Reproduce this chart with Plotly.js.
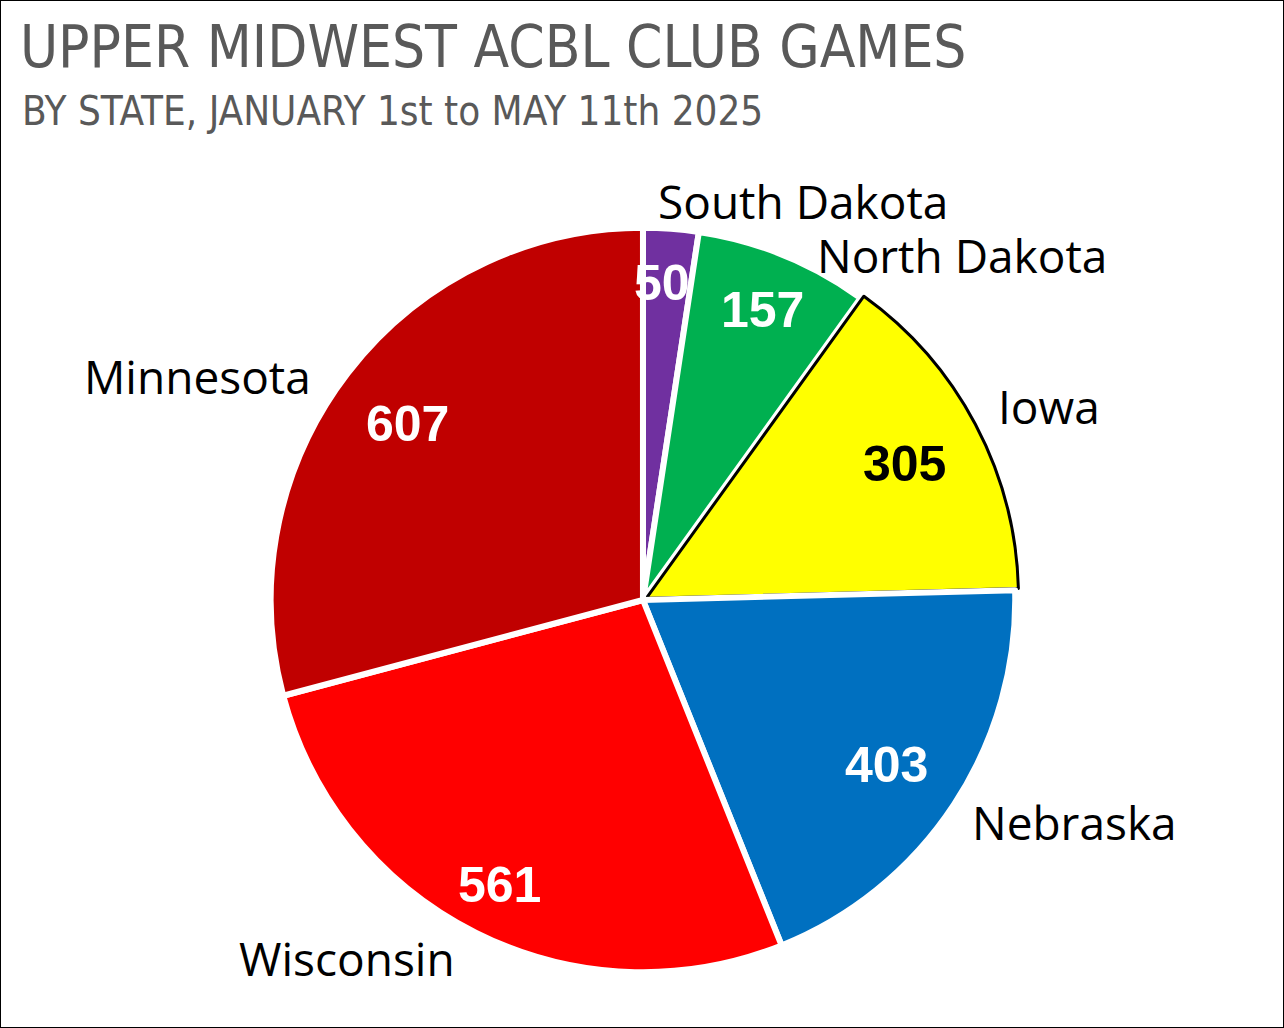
<!DOCTYPE html>
<html>
<head>
<meta charset="utf-8">
<script src="https://cdn.plot.ly/plotly-3.0.1.min.js"></script>
<style>
  html, body { margin: 0; padding: 0; background: #ffffff; }
  #chart { width: 1284px; height: 1028px; }
</style>
</head>
<body>
<div id="chart"></div>
<script>
// Club games per state, Jan 1 - May 11 2025 (clockwise from 12 o'clock)
var states = ["South Dakota", "North Dakota", "Iowa", "Nebraska", "Wisconsin", "Minnesota"];
var games = [50, 157, 305, 403, 561, 607];

var sliceColors = ["#7030A0", "#00B050", "#FFFF00", "#0070C0", "#FF0000", "#C00000"];
var valueColors = ["#ffffff", "#ffffff", "#000000", "#ffffff", "#ffffff", "#ffffff"];

// where the state names sit (paper fractions, Excel "best fit" style)
var labelX = [0.625, 0.749, 0.817, 0.837, 0.270, 0.154];
var labelY = [0.804, 0.752, 0.605, 0.200, 0.068, 0.634];

// where the value labels sit inside the slices
var valueX = [0.5155, 0.5935, 0.7048, 0.6908, 0.3894, 0.3170];
var valueY = [0.7245, 0.6984, 0.5486, 0.2558, 0.1391, 0.5875];

var pieTrace = {
  type: "pie",
  labels: states,
  values: games,
  sort: false,
  direction: "clockwise",
  rotation: 0,
  pull: [0, 0, 0.01, 0, 0, 0],
  marker: {
    colors: sliceColors,
    line: {
      color: ["#ffffff", "#ffffff", "#000000", "#ffffff", "#ffffff", "#ffffff"],
      width: [6, 6, 3, 6, 6, 6],
    },
  },
  textinfo: "none",
  hoverinfo: "label+value",
  domain: { x: [0.2079, 0.7936], y: [0.0506, 0.7821] },
};

var annotations = [];

states.forEach(function (name, i) {
  annotations.push({
    text: name,
    xref: "paper",
    yref: "paper",
    x: labelX[i],
    y: labelY[i],
    xanchor: "center",
    yanchor: "middle",
    height: 40,
    showarrow: false,
    font: { family: "Open Sans, sans-serif", size: 46, color: "#000000" },
  });
  annotations.push({
    text: String(games[i]),
    xref: "paper",
    yref: "paper",
    x: valueX[i],
    y: valueY[i],
    xanchor: "center",
    yanchor: "middle",
    showarrow: false,
    font: { family: "Liberation Sans, Arial, sans-serif", size: 50, color: valueColors[i], weight: "bold" },
  });
});

annotations.push({
  text: "BY STATE, JANUARY 1st to MAY 11th 2025",
  xref: "paper",
  yref: "paper",
  x: 0.0155,
  y: 0.892,
  xanchor: "left",
  yanchor: "middle",
  showarrow: false,
  font: { family: "Liberation Sans Narrow, DejaVu Sans Condensed, sans-serif", size: 40, color: "#595959" },
});

var layout = {
  width: 1284,
  height: 1028,
  margin: { t: 0, b: 0, l: 0, r: 0, pad: 0 },
  paper_bgcolor: "#ffffff",
  showlegend: false,
  title: {
    text: "UPPER MIDWEST ACBL CLUB GAMES",
    x: 0.0155,
    xanchor: "left",
    y: 0.955,
    yanchor: "middle",
    font: { family: "Liberation Sans Narrow, DejaVu Sans Condensed, sans-serif", size: 58, color: "#595959" },
  },
  annotations: annotations,
  shapes: [
    {
      type: "rect",
      xref: "paper",
      yref: "paper",
      x0: 0, x1: 1, y0: 0, y1: 1,
      line: { color: "#000000", width: 2 },
    },
  ],
};

Plotly.newPlot("chart", [pieTrace], layout, { displayModeBar: false, staticPlot: true });
</script>
</body>
</html>
